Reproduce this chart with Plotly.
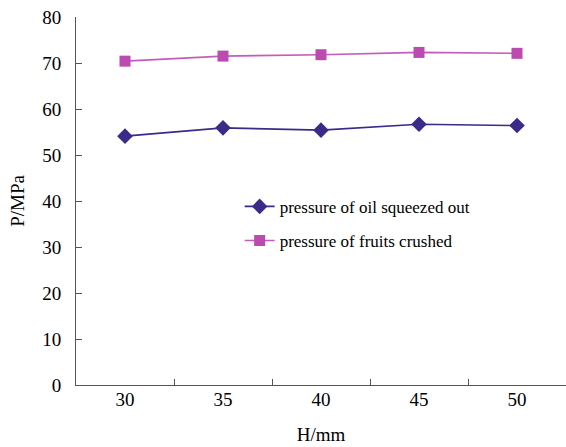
import plotly.graph_objects as go

h_mm = ["30", "35", "40", "45", "50"]
oil_squeezed = [54.1, 55.9, 55.4, 56.7, 56.4]
fruits_crushed = [70.4, 71.5, 71.8, 72.3, 72.1]
y_ticks = [0, 10, 20, 30, 40, 50, 60, 70, 80]

serif = "Times New Roman"

fig = go.Figure()
fig.add_trace(go.Scatter(
    x=h_mm, y=oil_squeezed, mode="lines+markers",
    name="pressure of oil squeezed out", legendgroup="a",
    line=dict(color="#3B2B88", width=1.6),
    marker=dict(symbol="diamond", size=12, color="#3B2B88"),
))
fig.add_trace(go.Scatter(
    x=h_mm, y=fruits_crushed, mode="lines+markers",
    name="pressure of fruits crushed", legendgroup="b",
    line=dict(color="#C45CBA", width=1.6),
    marker=dict(symbol="square", size=11, color="#BB4BAF"),
))
# invisible helper trace so the label axis is drawn
fig.add_trace(go.Scatter(
    x=h_mm, y=oil_squeezed, yaxis="y2", mode="lines",
    line=dict(color="rgba(0,0,0,0)"), showlegend=False, hoverinfo="skip",
))

fig.update_layout(
    width=566, height=447,
    margin=dict(l=76, r=0, t=17, b=62),
    paper_bgcolor="white", plot_bgcolor="white",
    font=dict(family=serif, color="black", size=19),
    showlegend=True,
    legend=dict(
        x=0.334, y=0.533, xanchor="left", yanchor="top",
        font=dict(family=serif, size=17, color="black"),
        bgcolor="rgba(0,0,0,0)", tracegroupgap=9,
        traceorder="grouped",
    ),
    xaxis=dict(
        type="category", range=[-0.5, 4.5],
        showline=True, linecolor="#555", linewidth=1.3,
        ticks="inside", tickson="boundaries", ticklen=6, tickcolor="#555",
        showgrid=False, zeroline=False,
        title=dict(text="H/mm", font=dict(family=serif, size=19), standoff=18),
        tickfont=dict(family=serif, size=19),
        ticklabelstandoff=-3,
    ),
    yaxis=dict(
        range=[0, 80], tickvals=y_ticks,
        showline=True, linecolor="#555", linewidth=1.3,
        ticks="inside", ticklen=6, tickcolor="#555",
        showgrid=False, zeroline=False, showticklabels=False,
    ),
    yaxis2=dict(
        overlaying="y", side="left", anchor="x",
        range=[0, 80], tickvals=y_ticks,
        showline=False, showgrid=False, zeroline=False,
        ticks="outside", ticklen=10, tickcolor="rgba(0,0,0,0)",
        title=dict(text="P/MPa", font=dict(family=serif, size=19), standoff=12),
        tickfont=dict(family=serif, size=19),
    ),
)

fig.write_html("out.html")
